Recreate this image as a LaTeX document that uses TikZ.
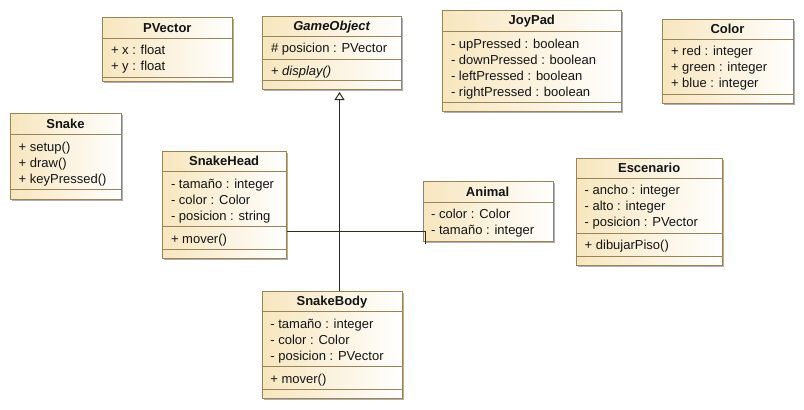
\documentclass[tikz,border=0pt]{standalone}
\usepackage{fontspec}
\setmainfont{Liberation Sans}
\usetikzlibrary{arrows.meta,calc}
\definecolor{bordc}{RGB}{152,132,88}
\definecolor{filll}{RGB}{247,230,190}
\definecolor{shadc}{RGB}{175,175,175}
\definecolor{linec}{RGB}{50,42,30}
\definecolor{txtc}{RGB}{20,20,20}
\tikzset{
 classbox/.style={draw=bordc, line width=1pt, left color=filll, right color=white, inner sep=0pt, anchor=north west},
 shadowbox/.style={fill=shadc, draw=none},
 sepline/.style={draw=bordc, line width=1pt},
 member/.style={anchor=base west, inner sep=0pt, text=txtc, font=\fontsize{13}{16}\selectfont},
 cname/.style={anchor=base, inner sep=0pt, text=txtc, font=\fontsize{13}{16}\selectfont\bfseries},
 conn/.style={draw=linec, line width=1pt},
 gen/.style={conn, -{Triangle[open, length=8pt, width=10pt]}},
}
\newcommand\ucls[5]{%
  \fill[shadowbox] (#2+2,#3+2) rectangle (#4+2,#5+2);
  \node[classbox, minimum width={#4-#2}, minimum height={#5-#3}] (#1) at (#2,#3) {};
}
\newcommand\usep[3]{\draw[sepline] (#1,#3) -- (#2,#3);}
\begin{document}
\begin{tikzpicture}[x=1pt,y=-1pt]
\useasboundingbox[fill=white] (0,0) rectangle (804,410);

% PVector
\ucls{pv}{102.3}{17.3}{232.3}{80.7}
\usep{102.3}{232.3}{38.3}\usep{102.3}{232.3}{77.7}
\node[cname] (pv-t) at (167.3,32) {PVector};
\node[member] (pv-a1) at (110.8,54.8) {+ x : float};
\node[member] (pv-a2) at (110.8,70.8) {+ y : float};

% GameObject
\ucls{go}{262.3}{15.7}{401}{89.3}
\usep{262.3}{401}{36}\usep{262.3}{401}{59.3}\usep{262.3}{401}{80.3}
\node[cname] (go-t) at (331.65,30.4) {\itshape GameObject};
\node[member] (go-a1) at (270.8,52.5) {\# posicion : PVector};
\node[member] (go-m1) at (270.8,75.8) {+ \textit{display()}};

% JoyPad
\ucls{jp}{442.3}{10}{621.3}{111}
\usep{442.3}{621.3}{31.7}\usep{442.3}{621.3}{102.3}
\node[cname] (jp-t) at (531.8,24.7) {JoyPad};
\node[member] (jp-a1) at (450.8,48.2) {- upPressed : boolean};
\node[member] (jp-a2) at (450.8,64.2) {- downPressed : boolean};
\node[member] (jp-a3) at (450.8,80.2) {- leftPressed : boolean};
\node[member] (jp-a4) at (450.8,96.2) {- rightPressed : boolean};

% Color
\ucls{co}{662.3}{18.5}{792.7}{103.3}
\usep{662.3}{792.7}{39.3}\usep{662.3}{792.7}{94.3}
\node[cname] (co-t) at (727.5,33.2) {Color};
\node[member] (co-a1) at (670.8,55.8) {+ red : integer};
\node[member] (co-a2) at (670.8,71.8) {+ green : integer};
\node[member] (co-a3) at (670.8,87.8) {+ blue : integer};

% Snake
\ucls{sn}{10}{113.3}{121}{199}
\usep{10}{121}{134.5}\usep{10}{121}{189.3}
\node[cname] (sn-t) at (65.5,128) {Snake};
\node[member] (sn-m1) at (18.5,151) {+ setup()};
\node[member] (sn-m2) at (18.5,167) {+ draw()};
\node[member] (sn-m3) at (18.5,183) {+ keyPressed()};

% SnakeHead
\ucls{sh}{162.3}{150.7}{286}{258.3}
\usep{162.3}{286}{171.7}\usep{162.3}{286}{226.7}\usep{162.3}{286}{249}
\node[cname] (sh-t) at (224.15,165.4) {SnakeHead};
\node[member] (sh-a1) at (170.8,188.2) {- tamaño : integer};
\node[member] (sh-a2) at (170.8,204.2) {- color : Color};
\node[member] (sh-a3) at (170.8,220.2) {- posicion : string};
\node[member] (sh-m1) at (170.8,243.2) {+ mover()};

% Animal
\ucls{an}{422.5}{181.3}{552.7}{240.5}
\usep{422.5}{552.7}{202}
\node[cname] (an-t) at (487.6,196) {Animal};
\node[member] (an-a1) at (431,218.5) {- color : Color};
\node[member] (an-a2) at (431,234.5) {- tamaño : integer};

% Escenario
\ucls{es}{576}{157.7}{722.3}{265}
\usep{576}{722.3}{178.3}\usep{576}{722.3}{233.3}\usep{576}{722.3}{256}
\node[cname] (es-t) at (649.15,172.4) {Escenario};
\node[member] (es-a1) at (584.5,194.8) {- ancho : integer};
\node[member] (es-a2) at (584.5,210.8) {- alto : integer};
\node[member] (es-a3) at (584.5,226.8) {- posicion : PVector};
\node[member] (es-m1) at (584.5,249.8) {+ dibujarPiso()};

% SnakeBody
\ucls{sb}{261.7}{290.7}{402.3}{398.3}
\usep{261.7}{402.3}{311.7}\usep{261.7}{402.3}{366.7}\usep{261.7}{402.3}{389.3}
\node[cname] (sb-t) at (332,305.4) {SnakeBody};
\node[member] (sb-a1) at (270.2,328.2) {- tamaño : integer};
\node[member] (sb-a2) at (270.2,344.2) {- color : Color};
\node[member] (sb-a3) at (270.2,360.2) {- posicion : PVector};
\node[member] (sb-m1) at (270.2,383.2) {+ mover()};

% connectors
\coordinate (gx) at (339.5,92);
\draw[gen] (sb.north -| gx) -- (gx);
\coordinate (hk) at (425,231);
\coordinate (hkend) at (425,244);
\draw[conn] (sh.east |- hk) -- (hk) -- (hkend);
\end{tikzpicture}
\end{document}
